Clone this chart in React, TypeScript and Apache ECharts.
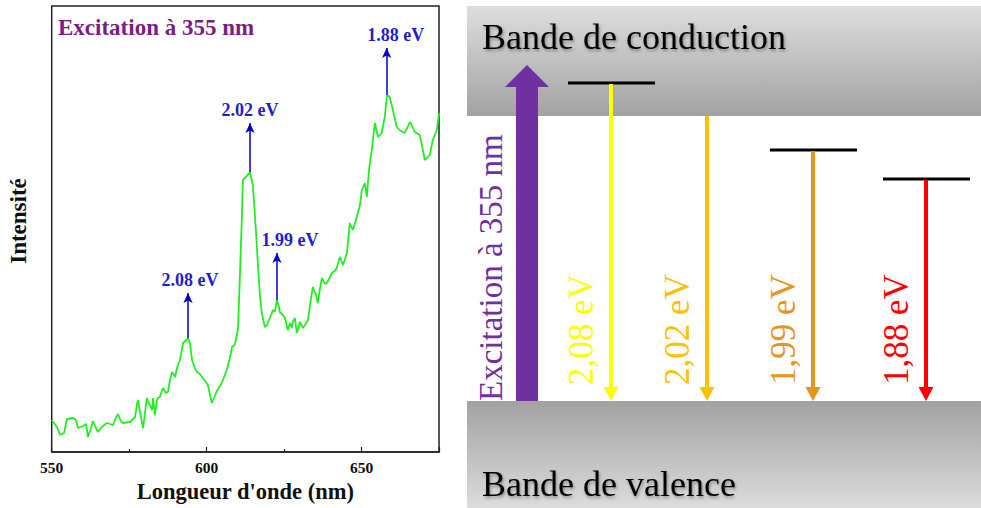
import React, { useEffect, useRef } from "react";
import * as echarts from "echarts";

// ---- Spectrum (left panel) ----
const wavelengths = [
  550.0, 551.7, 552.7, 554.0, 554.9, 556.9, 557.8, 558.5, 560.1, 561.1,
  561.7, 562.7, 563.3, 564.3, 564.9, 566.2, 567.8, 569.8, 570.7, 571.4,
  572.3, 573.0, 575.3, 576.9, 577.5, 577.8, 578.5, 579.1, 579.5, 580.1,
  580.7, 581.1, 581.7, 582.4, 582.7, 583.3, 584.0, 584.3, 584.9, 585.9,
  586.9, 587.5, 588.2, 588.8, 589.5, 589.8, 590.7, 591.4, 592.4, 593.4,
  594.0, 594.6, 595.3, 596.2, 596.9, 597.8, 598.8, 599.8, 600.4, 601.1,
  601.7, 602.4, 603.3, 604.9, 606.5, 607.5, 608.2, 609.1, 610.1, 610.7,
  611.4, 611.7, 613.0, 614.0, 614.9, 615.9, 616.6, 617.2, 617.8, 618.8,
  619.5, 620.4, 621.4, 622.0, 622.7, 623.3, 623.6, 624.6, 625.3, 626.2,
  626.9, 627.5, 627.8, 628.5, 629.1, 629.5, 630.1, 631.1, 632.0, 632.7,
  633.6, 634.3, 635.3, 635.9, 636.5, 637.2, 638.2, 638.8, 639.8, 640.4,
  641.4, 642.0, 643.0, 644.0, 645.3, 646.2, 647.2, 648.2, 649.5, 650.1,
  651.1, 651.7, 652.4, 653.3, 654.3, 655.3, 656.5, 657.5, 658.2, 659.1,
  660.1, 660.7, 661.4, 662.3, 663.3, 663.9, 664.9, 665.6, 666.2, 667.2,
  668.2, 668.8, 669.8, 670.4, 671.1, 672.0, 673.0, 674.3, 675.0,
];
const intensities = [
  32, 25, 17, 19, 33, 34, 32, 24, 26, 28,
  15, 24, 31, 24, 20, 25, 29, 27, 34, 38,
  31, 29, 30, 35, 47, 52, 40, 30, 24, 39,
  54, 50, 47, 42, 54, 37, 52, 54, 55, 64,
  59, 60, 72, 80, 77, 75, 87, 92, 109, 112,
  114, 109, 92, 84, 80, 78, 74, 70, 67, 57,
  49, 54, 61, 69, 82, 94, 105, 107, 122, 172,
  237, 272, 276, 280, 267, 222, 185, 157, 139, 125,
  127, 134, 142, 140, 152, 146, 140, 137, 134, 122,
  129, 124, 130, 134, 119, 122, 130, 124, 128, 132,
  152, 165, 157, 149, 162, 174, 168, 169, 175, 179,
  181, 184, 195, 187, 199, 229, 222, 232, 247, 262,
  269, 255, 282, 302, 329, 315, 319, 335, 357, 355,
  342, 334, 325, 322, 320, 319, 325, 330, 327, 320,
  318, 317, 302, 292, 294, 297, 312, 322, 339,
];

const peakLabels = ["2.08 eV", "2.02 eV", "1.99 eV", "1.88 eV"];
const peakWavelengths = [594.0, 614.0, 622.7, 658.1];
const peakIntensities = [114, 280, 152, 357];
const arrowTipIntensities = [159, 329, 199, 404];

// ---- Band diagram (right panel) ----
const transitionLabels = ["2,08 eV", "2,02 eV", "1,99 eV", "1,88 eV"];
const levelHeights = [318, 285, 251, 222]; // schematic energy of emitting level above valence band
const levelHasLine = [true, false, true, true];
const conductionEdge = 285;

// layout / style constants
const transitionX = [144, 240, 346, 459];
const transitionColors = ["#FFFF00", "#FFC000", "#E8951E", "#FF0000"];
const labelPadLeft = [4, 0, 26, 18];

const SERIF = '"Liberation Serif", "Times New Roman", serif';

export default function App() {
  const ref = useRef<HTMLDivElement>(null);

  useEffect(() => {
    document.body.style.margin = "0";
    const chart = echarts.init(ref.current!, null, { renderer: "svg" });

    const lineData = wavelengths.map((w, i) => [w, intensities[i]]);

    const markData = peakLabels.map((lab, i) => {
      const label = {
        show: true,
        position: "end",
        distance: 4,
        formatter: lab,
        color: "#1E1ECC",
        fontFamily: SERIF,
        fontWeight: "bold",
        fontSize: 18,
        padding: [0, 0, 0, labelPadLeft[i]],
      };
      return [
        { coord: [peakWavelengths[i], peakIntensities[i]], label },
        { coord: [peakWavelengths[i], arrowTipIntensities[i]], label },
      ];
    });

    const diagramData = transitionLabels.map((_, i) => [transitionX[i], levelHeights[i], i]);

    chart.setOption({
      animation: false,
      backgroundColor: "#ffffff",
      title: {
        text: "Excitation à 355 nm",
        left: 58,
        top: 16,
        padding: 0,
        textStyle: { fontFamily: SERIF, fontWeight: "bold", fontSize: 23, color: "#7A1F7E" },
      },
      grid: [
        {
          left: 51.7,
          top: 6,
          width: 387.3,
          height: 446,
          show: true,
          borderColor: "#222",
          borderWidth: 1.5,
          backgroundColor: "transparent",
        },
        { left: 467, top: 6, width: 514, height: 502 },
      ],
      xAxis: [
        {
          gridIndex: 0,
          type: "value",
          min: 550,
          max: 675,
          interval: 50,
          name: "Longueur d'onde (nm)",
          nameLocation: "middle",
          nameGap: 27,
          nameTextStyle: { fontFamily: SERIF, fontWeight: "bold", fontSize: 22.5, color: "#111" },
          axisLine: { show: true, lineStyle: { color: "#222", width: 1.5 } },
          axisTick: { show: true, inside: true, length: 5, lineStyle: { color: "#222", width: 1.2 } },
          minorTick: { show: true, splitNumber: 2, length: 3, lineStyle: { color: "#222", width: 1.2 } },
          axisLabel: {
            margin: 7,
            showMaxLabel: false,
            fontFamily: SERIF,
            fontWeight: "bold",
            fontSize: 15.5,
            color: "#111",
          },
          splitLine: { show: false },
        },
        { gridIndex: 1, type: "value", min: 0, max: 514, show: false },
      ],
      yAxis: [
        {
          gridIndex: 0,
          type: "value",
          min: 0,
          max: 446,
          name: "Intensité",
          nameLocation: "middle",
          nameRotate: 90,
          nameGap: 22,
          nameTextStyle: {
            fontFamily: SERIF,
            fontWeight: "bold",
            fontSize: 23,
            color: "#111",
            padding: [0, 0, 0, 16],
          },
          axisLine: { show: false },
          axisTick: { show: false },
          axisLabel: { show: false },
          splitLine: { show: false },
        },
        { gridIndex: 1, type: "value", min: -107, max: 395, show: false },
      ],
      graphic: [
        {
          type: "rect",
          z: 1,
          shape: { x: 467, y: 6, width: 514, height: 110 },
          style: {
            fill: {
              type: "linear", x: 0, y: 0, x2: 0, y2: 1,
              colorStops: [{ offset: 0, color: "#dedede" }, { offset: 1, color: "#a2a2a2" }],
            },
          },
        },
        {
          type: "rect",
          z: 1,
          shape: { x: 467, y: 401, width: 514, height: 107 },
          style: {
            fill: {
              type: "linear", x: 0, y: 0, x2: 0, y2: 1,
              colorStops: [{ offset: 0, color: "#a2a2a2" }, { offset: 1, color: "#dcdcdc" }],
            },
          },
        },
        {
          type: "text",
          z: 2,
          x: 482,
          y: 37,
          style: {
            text: "Bande de conduction",
            fill: "#000",
            fontFamily: SERIF,
            fontSize: 36,
            align: "left",
            verticalAlign: "middle",
            textShadowColor: "rgba(0,0,0,0.35)",
            textShadowBlur: 3,
            textShadowOffsetX: 1,
            textShadowOffsetY: 2,
          },
        },
        {
          type: "text",
          z: 2,
          x: 482,
          y: 484,
          style: {
            text: "Bande de valence",
            fill: "#000",
            fontFamily: SERIF,
            fontSize: 36,
            align: "left",
            verticalAlign: "middle",
            textShadowColor: "rgba(0,0,0,0.35)",
            textShadowBlur: 3,
            textShadowOffsetX: 1,
            textShadowOffsetY: 2,
          },
        },
        {
          type: "polygon",
          z: 3,
          shape: {
            points: [
              [516, 401], [516, 87], [505, 87], [527, 65], [549, 87], [538, 87], [538, 401],
            ],
          },
          style: { fill: "#7030A0" },
        },
        {
          type: "text",
          z: 3,
          x: 491,
          y: 401,
          rotation: Math.PI / 2,
          style: {
            text: "Excitation à 355 nm",
            fill: "#7030A0",
            fontFamily: SERIF,
            fontSize: 33,
            align: "left",
            verticalAlign: "middle",
          },
        },
      ],
      series: [
        {
          type: "line",
          xAxisIndex: 0,
          yAxisIndex: 0,
          data: lineData,
          showSymbol: false,
          symbol: "none",
          lineStyle: { color: "#22EE22", width: 1.8 },
          z: 3,
          markLine: {
            silent: true,
            symbol: ["none", "arrow"],
            symbolSize: [7, 10],
            lineStyle: { color: "#0000CC", width: 1.5, type: "solid" },
            data: markData,
          },
        },
        {
          type: "custom",
          xAxisIndex: 1,
          yAxisIndex: 1,
          z: 10,
          data: diagramData,
          renderItem: (params: any, api: any) => {
            const i = params.dataIndex;
            const x = api.value(0);
            const top = api.value(1);
            const pTop = api.coord([x, top]);
            const pBot = api.coord([x, 0]);
            const color = transitionColors[i];
            const children: any[] = [];
            if (levelHasLine[i]) {
              const l = api.coord([x - 43, top]);
              const r = api.coord([x + 44, top]);
              children.push({
                type: "line",
                shape: { x1: l[0], y1: l[1], x2: r[0], y2: r[1] },
                style: { stroke: "#000", lineWidth: 3 },
              });
            }
            const startY = top >= conductionEdge && !levelHasLine[i] ? pTop[1] : pTop[1] + 1;
            children.push({
              type: "line",
              shape: { x1: pTop[0], y1: startY, x2: pBot[0], y2: pBot[1] - 12 },
              style: { stroke: color, lineWidth: 4 },
            });
            children.push({
              type: "polygon",
              shape: {
                points: [
                  [pBot[0] - 7.5, pBot[1] - 14],
                  [pBot[0] + 7.5, pBot[1] - 14],
                  [pBot[0], pBot[1]],
                ],
              },
              style: { fill: color },
            });
            children.push({
              type: "text",
              x: pBot[0] - 30,
              y: pBot[1] - 16,
              rotation: Math.PI / 2,
              style: {
                text: transitionLabels[i],
                fill: color,
                fontFamily: SERIF,
                fontSize: 35,
                align: "left",
                verticalAlign: "middle",
              },
            });
            return { type: "group", children };
          },
        },
      ],
    });

    return () => chart.dispose();
  }, []);

  return (
    <div
      ref={ref}
      style={{ position: "absolute", left: 0, top: 0, width: 981, height: 508 }}
    />
  );
}
